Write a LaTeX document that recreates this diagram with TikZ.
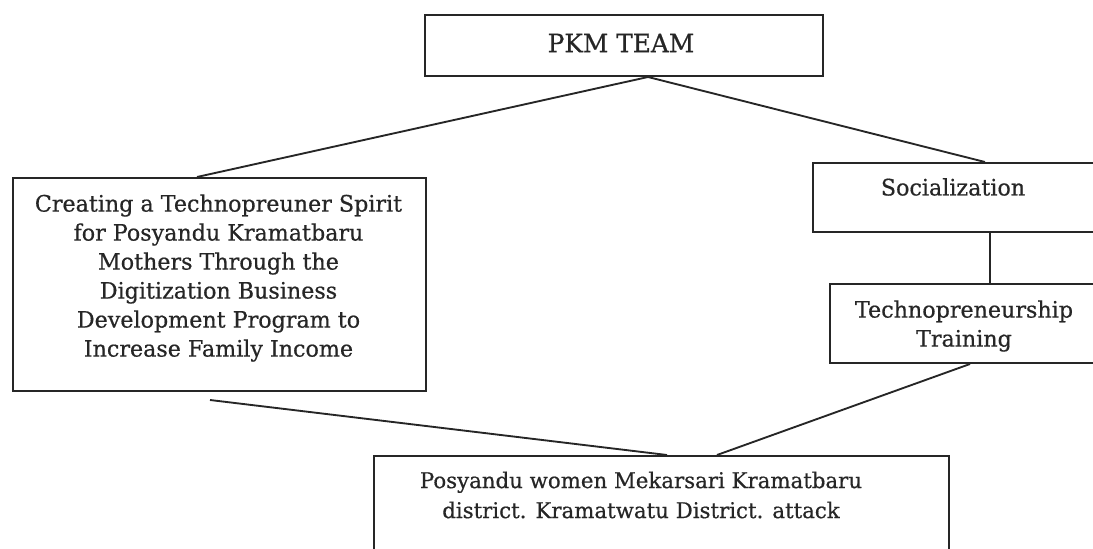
\documentclass[tikz,border=0pt]{standalone}
\usepackage{fontspec}
\setmainfont{DejaVu Serif}[FakeStretch=0.98,FakeBold=0.6]
\usetikzlibrary{calc}
\begin{document}
\begin{tikzpicture}[x=0.75pt,y=-0.75pt,
  box/.style={draw=black!85,line width=1.5pt,rectangle,inner sep=0pt,anchor=north west},
  conn/.style={draw=black!85,line width=1.4pt},
  lbl/.style={font=\fontsize{17}{21.75}\selectfont,align=center,inner sep=0pt,text=black!85}]
\useasboundingbox (0,0) rectangle (1093,549);
% boxes
\node[box,minimum width=298.5pt,minimum height=45.75pt] (pkm) at (424,14) {};
\node[box,minimum width=309.75pt,minimum height=159.75pt] (goal) at (12,177) {};
\node[box,minimum width=212.25pt,minimum height=51.75pt] (soc) at (812,162) {};
\node[box,minimum width=201pt,minimum height=59.25pt] (train) at (829,283) {};
\node[box,minimum width=431.25pt,minimum height=82.5pt] (women) at (373,455) {};
% texts
\node[lbl,font=\fontsize{19}{21.75}\selectfont] (pkmtext) at (621,43) {PKM TEAM};
\node[lbl] (goaltext) at (218.5,278) {Creating a Technopreuner Spirit\\for Posyandu Kramatbaru\\Mothers Through the\\Digitization Business\\Development Program to\\Increase Family Income};
\node[lbl] (soctext) at (953,187) {Socialization};
\node[lbl] (traintext) at (964,326) {Technopreneurship\\Training};
\node[lbl,font=\fontsize{16.3}{22.5}\selectfont] (womentext) at (641,495) {Posyandu women Mekarsari Kramatbaru\\district. Kramatwatu District. attack};
% connectors
\draw[conn] ($(pkm.south west)+(224,0)$) -- ($(goal.north west)+(185,0)$);
\draw[conn] ($(pkm.south west)+(224,0)$) -- ($(soc.north west)+(173,0)$);
\draw[conn] ($(soc.south west)+(178,0)$) -- ($(train.north west)+(161,0)$);
\draw[conn] ($(train.south west)+(141,0)$) -- ($(women.north west)+(344,0)$);
\draw[conn] ($(goal.south west)+(198,8)$) -- ($(women.north west)+(294,0)$);
\end{tikzpicture}
\end{document}
